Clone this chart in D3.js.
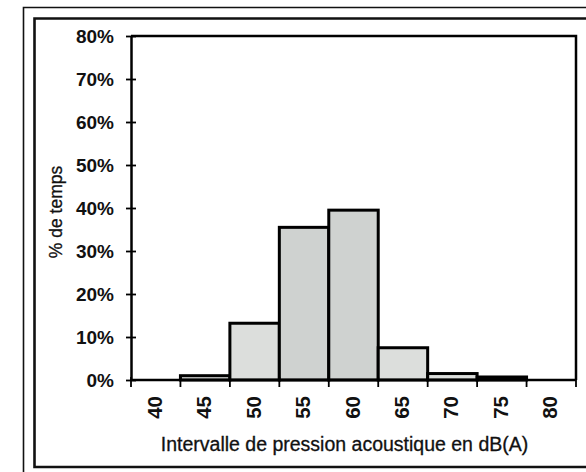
<!DOCTYPE html>
<html>
<head>
<meta charset="utf-8">
<script src="https://cdn.jsdelivr.net/npm/d3@7"></script>
<style>
  html, body { margin: 0; padding: 0; background: #fff; }
  svg { display: block; }
</style>
</head>
<body>
<svg id="chart" width="586" height="472"></svg>
<script>
// Data
const categories = ["40", "45", "50", "55", "60", "65", "70", "75", "80"];
const values = [0, 0.010, 0.132, 0.355, 0.395, 0.075, 0.015, 0.007, 0];
const yTicks = [0, 0.1, 0.2, 0.3, 0.4, 0.5, 0.6, 0.7, 0.8];
const xTitle = "Intervalle de pression acoustique en dB(A)";
const yTitle = "% de temps";

const svg = d3.select("#chart");
const font = "'Liberation Sans', Arial, sans-serif";

// frames
svg.append("path").attr("d", "M23.5,480 V7.5 H600")
  .attr("fill", "none").attr("stroke", "#111").attr("stroke-width", 1.6);
svg.append("path").attr("d", "M600,18.5 H34.5 V467 H600")
  .attr("fill", "none").attr("stroke", "#111").attr("stroke-width", 2.6);

const plot = { left: 131, right: 576, top: 36, bottom: 380 };

const x = d3.scaleBand().domain(categories).range([plot.left, plot.right]).padding(0);
const y = d3.scaleLinear().domain([0, 0.8]).range([plot.bottom, plot.top]);

// bars
svg.append("g").selectAll("rect").data(values).join("rect")
  .attr("x", (d, i) => x(categories[i]))
  .attr("width", x.bandwidth())
  .attr("y", d => y(d))
  .attr("height", d => y(0) - y(d))
  .attr("fill", d => d > 0.3 ? "#cfd2d0" : "#dcdedc")
  .attr("stroke", "#000")
  .attr("stroke-width", 3);

// plot frame top & right
svg.append("path")
  .attr("d", `M${plot.left},${plot.top} H${plot.right} V${plot.bottom}`)
  .attr("fill", "none").attr("stroke", "#000").attr("stroke-width", 2.5);

// y axis
const yAxis = svg.append("g").attr("transform", `translate(${plot.left},0)`)
  .call(d3.axisLeft(y).tickValues(yTicks).tickFormat(d3.format(".0%")).tickSize(5).tickSizeOuter(0));
yAxis.select(".domain").attr("stroke", "#000").attr("stroke-width", 2.5);
yAxis.selectAll(".tick line").attr("x2", 5).attr("x1", -5).attr("stroke", "#000").attr("stroke-width", 1.8);
yAxis.selectAll(".tick text").attr("x", -17).attr("dy", "0.36em")
  .attr("font-family", font).attr("font-size", 19).attr("font-weight", "bold").attr("fill", "#111");

// x axis: ticks at band boundaries
const xAxisG = svg.append("g").attr("transform", `translate(0,${plot.bottom})`);
xAxisG.append("line").attr("x1", plot.left).attr("x2", plot.right)
  .attr("stroke", "#000").attr("stroke-width", 2.5);
const boundaries = categories.map(c => x(c)).concat([x(categories[categories.length - 1]) + x.bandwidth()]);
xAxisG.selectAll("line.tk").data(boundaries).join("line").attr("class", "tk")
  .attr("x1", d => d).attr("x2", d => d).attr("y1", -3).attr("y2", 7)
  .attr("stroke", "#000").attr("stroke-width", 1.8);
xAxisG.selectAll("text").data(categories).join("text")
  .attr("transform", d => `translate(${x(d) + x.bandwidth() / 2 + 6},16) rotate(-90)`)
  .attr("text-anchor", "end")
  .attr("font-family", font).attr("font-size", 20.5).attr("font-weight", "bold").attr("fill", "#111")
  .text(d => d);

// titles
svg.append("text").attr("x", 344.5).attr("y", 451)
  .attr("text-anchor", "middle").attr("font-family", font).attr("font-size", 19.5).attr("fill", "#111")
  .attr("stroke", "#111").attr("stroke-width", 0.3)
  .text(xTitle);
svg.append("text").attr("transform", `translate(62,212) rotate(-90)`)
  .attr("text-anchor", "middle").attr("font-family", font).attr("font-size", 17.5).attr("fill", "#111")
  .attr("stroke", "#111").attr("stroke-width", 0.3)
  .text(yTitle);
</script>
</body>
</html>
